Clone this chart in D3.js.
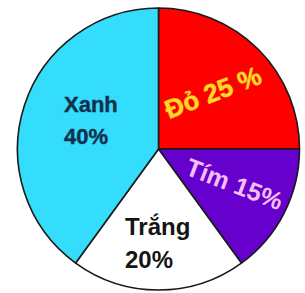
<!DOCTYPE html>
<html><head><meta charset="utf-8">
<script src="https://cdn.jsdelivr.net/npm/d3@7"></script>
<style>html,body{margin:0;padding:0;background:#fff;}svg{display:block;}</style>
</head><body>
<script>
const names = ["Đỏ", "Tím", "Trắng", "Xanh"];
const values = [25, 15, 20, 40];
const colors = ["#ff0000", "#6600cc", "#ffffff", "#33ddfb"];

const W = 305, H = 293, cx = 158.5, cy = 149, R = 141;
const svg = d3.select("body").append("svg").attr("width", W).attr("height", H);
const g = svg.append("g").attr("transform", `translate(${cx},${cy})`);

const pie = d3.pie().sort(null).value(d => d.v);
const data = names.map((n, i) => ({n, v: values[i], c: colors[i]}));
const arcs = pie(data);
const arc = d3.arc().innerRadius(0).outerRadius(R);

g.selectAll("path").data(arcs).enter().append("path")
  .attr("d", arc).attr("fill", d => d.data.c)
  .attr("stroke", "#1a1a1a").attr("stroke-width", 1.6).attr("stroke-linejoin", "round");

const font = "'Liberation Sans', Arial, sans-serif";
const layout = {
  "Đỏ":   {x: 169, y: 119, rot: -21, size: 26, fill: "#ffd726", stroke: "#f39a10", lines: d => [`${d.n} ${d.v} %`]},
  "Tím":  {x: 184, y: 174, rot: 21, size: 25, fill: "#f6bdf6", stroke: "none", lines: d => [`${d.n} ${d.v}%`]},
  "Trắng":{x: 125, y: 235, rot: 0, size: 24, fill: "#151515", stroke: "none", lines: d => [d.n, `${d.v}%`], lh: 33},
  "Xanh": {x: 64, y: 112, rot: 0, size: 22, fill: "#13304f", stroke: "#13304f", sw: 0.4, lines: d => [d.n, `${d.v}%`], lh: 32}
};

arcs.forEach(a => {
  const L = layout[a.data.n];
  const t = svg.append("text")
    .attr("transform", `translate(${L.x},${L.y}) rotate(${L.rot})`)
    .attr("font-family", font).attr("font-weight", "bold")
    .attr("font-size", L.size).attr("fill", L.fill);
  if (L.stroke !== "none") t.attr("stroke", L.stroke).attr("stroke-width", L.sw || 0.8).attr("paint-order", "stroke");
  L.lines(a.data).forEach((s, i) => {
    t.append("tspan").attr("x", 0).attr("y", i * (L.lh || 0)).text(s);
  });
});
</script>
</body></html>
